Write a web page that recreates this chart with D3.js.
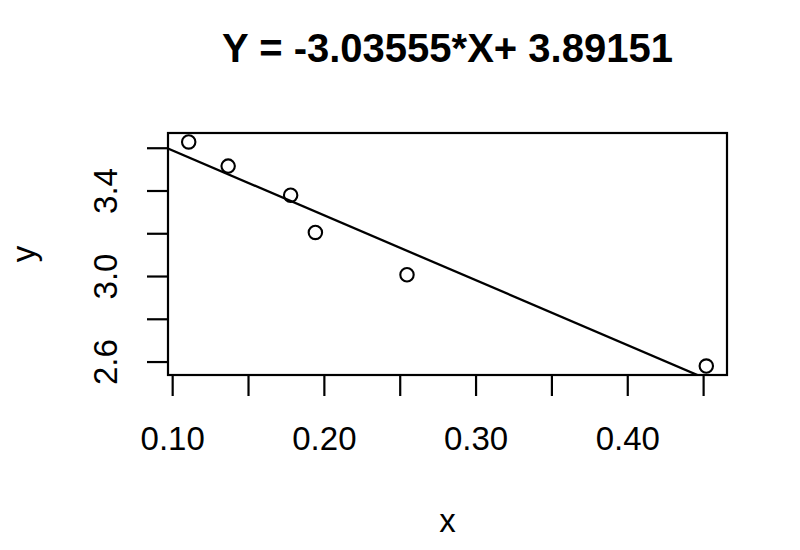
<!DOCTYPE html>
<html>
<head>
<meta charset="utf-8">
<script src="https://cdn.jsdelivr.net/npm/d3@7"></script>
<style>
  html, body { margin: 0; padding: 0; background: #fff; }
  svg { display: block; }
  text { font-family: "Liberation Sans", Arial, sans-serif; fill: #000; }
</style>
</head>
<body>
<svg id="chart" width="800" height="550"></svg>
<script>
// ---- data ----
const xValues = [0.1109, 0.1369, 0.1781, 0.1944, 0.2548, 0.4521];
const yValues = [3.627, 3.514, 3.378, 3.204, 3.006, 2.579];
const slope = -3.03555;
const intercept = 3.89151;
const titleText = "Y = -3.03555*X+ 3.89151";
const xTicks = [0.10, 0.15, 0.20, 0.25, 0.30, 0.35, 0.40, 0.45];
const xTickLabels = ["0.10", "", "0.20", "", "0.30", "", "0.40", ""];
const yTicks = [2.6, 2.8, 3.0, 3.2, 3.4, 3.6];
const yTickLabels = ["2.6", "", "3.0", "", "3.4", ""];
const xLabel = "x";
const yLabel = "y";

// ---- layout ----
const svg = d3.select("#chart");
const L = 168, R = 727, T = 133, B = 375;

function padExtent(vals) {
  const [a, b] = d3.extent(vals);
  const p = (b - a) * 0.04;
  return [a - p, b + p];
}
const x = d3.scaleLinear().domain(padExtent(xValues)).range([L, R]);
const y = d3.scaleLinear().domain(padExtent(yValues)).range([B, T]);

// clip
svg.append("defs").append("clipPath").attr("id", "clip")
  .append("rect").attr("x", L).attr("y", T).attr("width", R - L).attr("height", B - T);

// regression line
const xd = x.domain();
svg.append("line")
  .attr("clip-path", "url(#clip)")
  .attr("x1", x(xd[0])).attr("y1", y(intercept + slope * xd[0]))
  .attr("x2", x(xd[1])).attr("y2", y(intercept + slope * xd[1]))
  .attr("stroke", "#000").attr("stroke-width", 2.3);

// points
svg.append("g").selectAll("circle")
  .data(xValues.map((v, i) => [v, yValues[i]]))
  .join("circle")
  .attr("cx", d => x(d[0])).attr("cy", d => y(d[1]))
  .attr("r", 6.7)
  .attr("fill", "none").attr("stroke", "#000").attr("stroke-width", 2.1);

// x axis
const xAxis = d3.axisBottom(x)
  .tickValues(xTicks)
  .tickFormat((d, i) => xTickLabels[i])
  .tickSize(21).tickSizeOuter(0).tickPadding(31);
const gx = svg.append("g").attr("transform", `translate(0,${B})`).call(xAxis);
gx.select(".domain").remove();
gx.selectAll(".tick line").attr("stroke", "#000").attr("stroke-width", 2.2);
gx.selectAll(".tick text").style("font-size", "33px").attr("font-family", null);

// y axis
const yAxis = d3.axisLeft(y)
  .tickValues(yTicks)
  .tickFormat((d, i) => yTickLabels[i])
  .tickSize(21).tickSizeOuter(0);
const gy = svg.append("g").attr("transform", `translate(${L},0)`).call(yAxis);
gy.select(".domain").remove();
gy.selectAll(".tick line").attr("stroke", "#000").attr("stroke-width", 2.2);
gy.selectAll(".tick text")
  .style("font-size", "33px").attr("font-family", null)
  .attr("transform", "rotate(-90)")
  .attr("x", 0).attr("y", -51).attr("dy", 0)
  .attr("text-anchor", "middle");

// box
svg.append("rect")
  .attr("x", L).attr("y", T).attr("width", R - L).attr("height", B - T)
  .attr("fill", "none").attr("stroke", "#000").attr("stroke-width", 2.2);

// title
svg.append("text")
  .attr("x", (L + R) / 2).attr("y", 62)
  .attr("text-anchor", "middle")
  .style("font-size", "40px").style("font-weight", "bold")
  .text(titleText);

// axis labels
svg.append("text")
  .attr("x", (L + R) / 2).attr("y", 532)
  .attr("text-anchor", "middle")
  .style("font-size", "33px")
  .text(xLabel);
svg.append("text")
  .attr("transform", `translate(35,${(T + B) / 2}) rotate(-90)`)
  .attr("text-anchor", "middle")
  .style("font-size", "33px")
  .text(yLabel);
</script>
</body>
</html>
